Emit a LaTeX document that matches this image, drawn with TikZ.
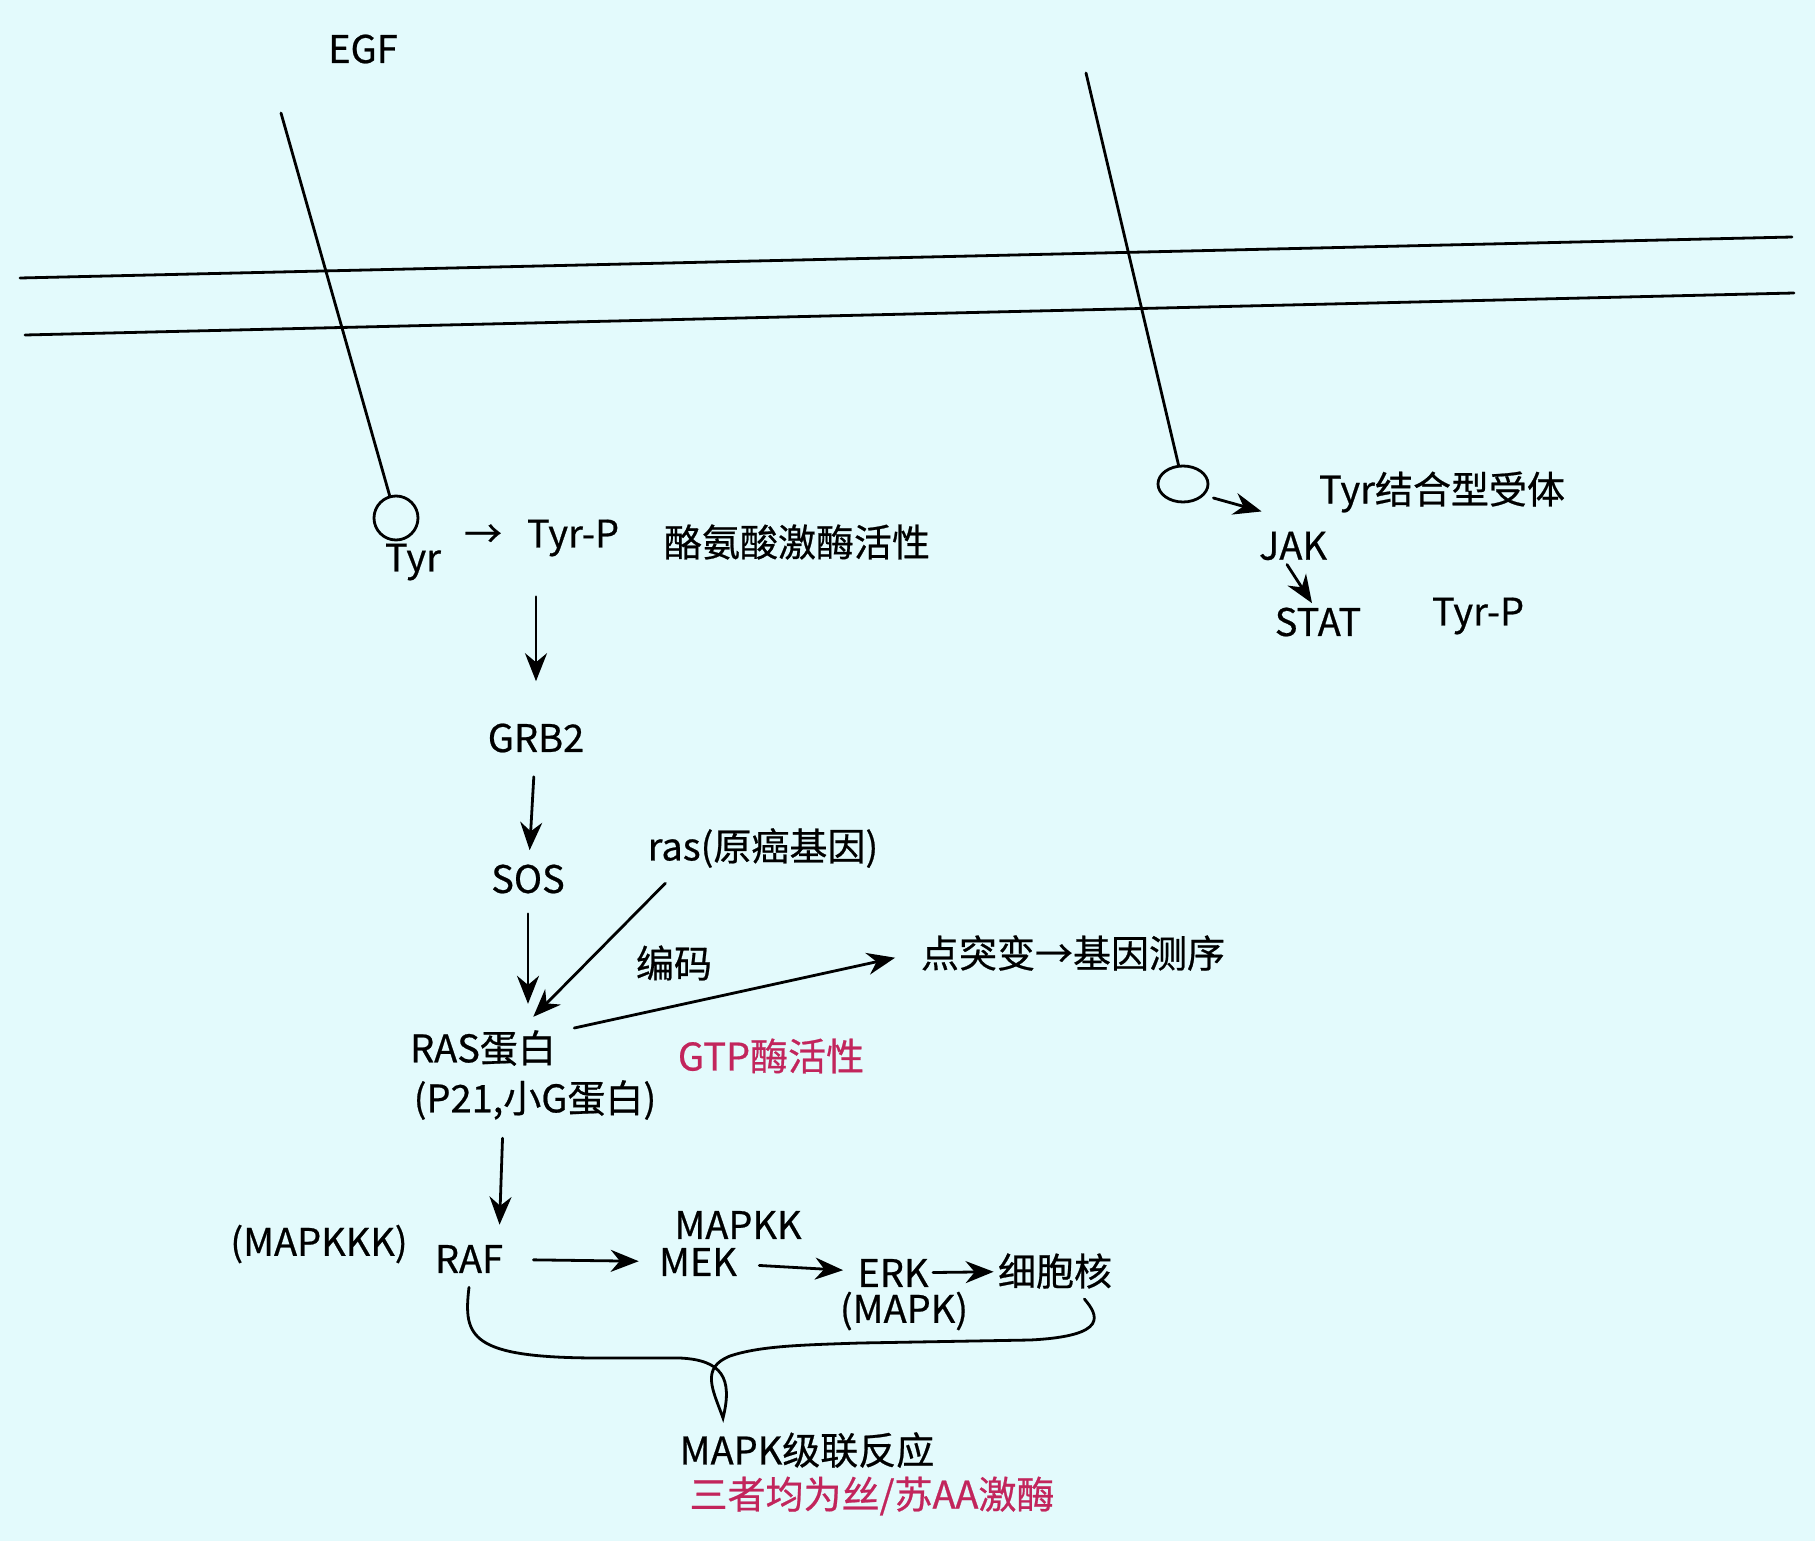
\documentclass[tikz,border=0pt]{standalone}
\usepackage{fontspec}
\setmainfont{Noto Sans CJK SC}[FakeBold=0.6]
\usetikzlibrary{arrows.meta,shapes.geometric}
\definecolor{sheet}{HTML}{E3FAFC}
\definecolor{accent}{HTML}{C2255C}

\begin{document}
\begin{tikzpicture}[
  x=0.5pt,y=-0.5pt,
  >={Stealth[length=14pt,width=11pt]},
  every node/.style={font=\fontsize{19}{22}\selectfont,inner sep=2pt},
  stroke/.style={line width=1.4pt,line cap=round},
  flow/.style={stroke,->},
  note/.style={text=accent},
  ring/.style={draw,line width=1.4pt}
]
  \fill[sheet] (0,0) rectangle (1815,1541);
  \useasboundingbox (0,0) rectangle (1815,1541);

  % membrane and receptors
  \draw[stroke] (20,278) -- (1792,237);
  \draw[stroke] (25,335) -- (1794,293);
  \coordinate (egfrtop) at (281,113);
  \coordinate (jakrtop) at (1086,73);
  \node[ring,circle,minimum size=22pt] (lring) at (396,518) {};
  \node[ring,ellipse,minimum width=25pt,minimum height=18pt] (rring) at (1183,484) {};
  \draw[stroke] (egfrtop) -- (lring);
  \draw[stroke] (jakrtop) -- (rring);

  \node (egf) at (363,49) {EGF};
  \node (tyr) at (413,562) {Tyr};
  \node (to) at (483,536) {→};
  \node (tyrp) at (573,538) {Tyr-P};
  \node (tkact) at (797,542) {酪氨酸激酶活性};
  \node (rtype) at (1442,492) {Tyr结合型受体};
  \node (jak) at (1293,546) {JAK};
  \node (stat) at (1318,622) {STAT};
  \node (stattyrp) at (1478,616) {Tyr-P};
  \node (grb) at (536,738) {GRB2};
  \node (sos) at (528,879) {SOS};
  \node (rasgene) at (763,848) {ras(原癌基因)};
  \node (encode) at (674,963) {编码};
  \node (pmut) at (1073,953) {点突变→基因测序};
  \node (rasp) at (483,1048) {RAS蛋白};
  \node (p21) at (535,1100) {(P21,小G蛋白)};
  \node[note] (gtpase) at (771,1056) {GTP酶活性};
  \node (mapkkk) at (319,1244) {(MAPKKK)};
  \node (raf) at (469,1259) {RAF};
  \node (mapkk) at (738,1225) {MAPKK};
  \node (mek) at (698,1262) {MEK};
  \node (erk) at (893,1273) {ERK};
  \node (mapk) at (904,1311) {(MAPK)};
  \node (nuc) at (1055,1271) {细胞核};
  \node (cascade) at (807,1450) {MAPK级联反应};
  \node[note] (kinase) at (872,1496) {三者均为丝/苏AA激酶};

  % pathway arrows
  \draw[flow] ([shift={(2pt,-7pt)}]rring.east) -- ([shift={(3.5pt,8pt)}]jak.north west);
  \draw[flow] ([xshift=-3pt]jak.south) -- ([xshift=-3pt]stat.north);
  \draw[flow,shorten <=18pt,shorten >=19pt] (grb.north |- tyrp.south) -- (grb.north);
  \draw[flow,shorten <=10pt,shorten >=5pt] (grb) -- (sos);
  \draw[flow,shorten <=8pt,shorten >=11pt] (sos.south) -- (sos.south |- rasp.north);
  \draw[flow] ([shift={(11pt,-5.5pt)}]rasgene.south west) -- ([shift={(-13.5pt,4.5pt)}]rasp.north east);
  \draw[flow,shorten >=11pt] ([shift={(7pt,10pt)}]rasp.east) -- (pmut.west);
  \draw[flow,shorten <=7pt,shorten >=8pt] ([xshift=-16pt]p21.south) -- ([xshift=15pt]raf.north);
  \draw[flow,shorten <=13pt,shorten >=8pt] (raf) -- (mek);
  \draw[flow,shorten <=9pt,shorten >=5pt] (mek) -- (erk);
  \draw[flow] (erk) -- (nuc);

  % cascade brace
  \coordinate (brtip) at (723,1418);
  \draw[stroke] ([yshift=-5pt]raf.south) .. controls +(-6,50) and (470,1358) .. (600,1358)
    -- (680,1358) .. controls (722,1360) and (733,1378) .. (brtip)
    .. controls (713,1390) and (700,1368) .. (730,1356)
    .. controls (760,1346) and (800,1345) .. (860,1343)
    -- (1030,1340) .. controls (1110,1336) and (1098,1315) .. ([shift={(-16pt,-3pt)}]nuc.south east);
\end{tikzpicture}
\end{document}
